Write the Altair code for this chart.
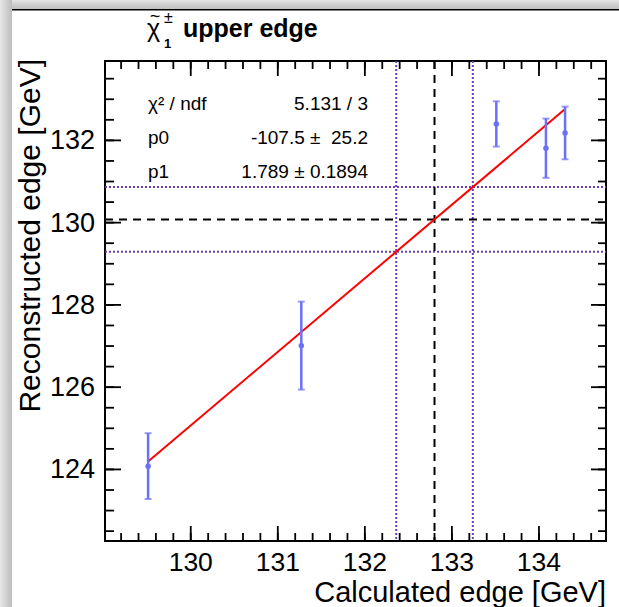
import altair as alt
import numpy as np
import pandas as pd

# Calculated vs reconstructed chargino upper edge (GeV)
calc_edge = [129.51, 131.27, 133.51, 134.08, 134.30]
reco_edge = [124.08, 127.01, 132.40, 131.81, 132.18]
reco_err = [0.80, 1.07, 0.55, 0.72, 0.64]

# Linear fit reco = p0 + p1 * calc
chi2_ndf = "5.131 / 3"
p0, p0_err = -107.5, 25.2
p1, p1_err = 1.789, 0.1894

# Calculated edge value and its uncertainty band
edge_value = 132.80
edge_band = [132.36, 133.24]

# Axis ranges and tick values
x_domain = [129.015, 134.77]
y_domain = [122.26, 133.93]
x_major = [130, 131, 132, 133, 134]
y_major = [124, 126, 128, 130, 132]
x_minor = [round(v, 1) for v in np.arange(129.2, 134.7, 0.2)]
y_minor = [round(v, 1) for v in np.arange(122.5, 133.6, 0.5)]

W, H = 501, 480
PAD_L, PAD_T = 105, 61
FONT = "Liberation Sans"

xs = alt.Scale(domain=x_domain, nice=False, zero=False)
ys = alt.Scale(domain=y_domain, nice=False, zero=False)


def fit(v):
    return p0 + p1 * v


one = pd.DataFrame({"k": [0]})

# Canvas shadow on the left and top edges
left_shadow = alt.Chart(one).mark_rect(
    clip=False,
    fill=alt.LinearGradient(
        gradient="linear", x1=0, x2=1, y1=0, y2=0,
        stops=[alt.GradientStop(color="#e8e8e8", offset=0),
               alt.GradientStop(color="#d2d2d2", offset=0.5),
               alt.GradientStop(color="#bdbdbd", offset=1)],
    ),
).encode(x=alt.value(-PAD_L), x2=alt.value(-PAD_L + 12),
         y=alt.value(-PAD_T), y2=alt.value(607 - PAD_T))

top_shadow = alt.Chart(one).mark_rect(
    clip=False,
    fill=alt.LinearGradient(
        gradient="linear", x1=0, x2=0, y1=0, y2=1,
        stops=[alt.GradientStop(color="#e6e6e6", offset=0),
               alt.GradientStop(color="#d0d0d0", offset=0.5),
               alt.GradientStop(color="#c0c0c0", offset=1)],
    ),
).encode(x=alt.value(-PAD_L + 12), x2=alt.value(619 - PAD_L),
         y=alt.value(-PAD_T), y2=alt.value(-PAD_T + 9))

top_border = alt.Chart(one).mark_rect(clip=False, fill="black").encode(
    x=alt.value(-PAD_L + 12), x2=alt.value(619 - PAD_L),
    y=alt.value(-PAD_T + 9), y2=alt.value(-PAD_T + 10.4))

# Ticks drawn inside the frame on all four sides
xmaj = pd.DataFrame({"x": x_major})
xmin = pd.DataFrame({"x": x_minor})
ymaj = pd.DataFrame({"y": y_major})
ymin = pd.DataFrame({"y": y_minor})

tick_style = dict(color="black", strokeWidth=1.8)
X = alt.X("x:Q", scale=xs, axis=None)
Y = alt.Y("y:Q", scale=ys, axis=None)

ticks = [
    alt.Chart(xmaj).mark_rule(**tick_style).encode(x=X, y=alt.value(H), y2=alt.value(H - 15)),
    alt.Chart(xmaj).mark_rule(**tick_style).encode(x=X, y=alt.value(0), y2=alt.value(15)),
    alt.Chart(xmin).mark_rule(**tick_style).encode(x=X, y=alt.value(H), y2=alt.value(H - 8)),
    alt.Chart(xmin).mark_rule(**tick_style).encode(x=X, y=alt.value(0), y2=alt.value(8)),
    alt.Chart(ymaj).mark_rule(**tick_style).encode(y=Y, x=alt.value(0), x2=alt.value(16)),
    alt.Chart(ymaj).mark_rule(**tick_style).encode(y=Y, x=alt.value(W), x2=alt.value(W - 15)),
    alt.Chart(ymin).mark_rule(**tick_style).encode(y=Y, x=alt.value(0), x2=alt.value(9)),
    alt.Chart(ymin).mark_rule(**tick_style).encode(y=Y, x=alt.value(W), x2=alt.value(W - 8)),
]

# Tick labels
x_labels = alt.Chart(xmaj).mark_text(
    font=FONT, fontSize=26.5, baseline="alphabetic", align="center", clip=False
).encode(x=X, y=alt.value(571 - PAD_T), text=alt.Text("x:Q", format="d"))

y_labels = alt.Chart(ymaj).mark_text(
    font=FONT, fontSize=27, baseline="middle", align="right", clip=False, dy=1
).encode(y=Y, x=alt.value(95 - PAD_L), text=alt.Text("y:Q", format="d"))

# Axis titles
x_title = alt.Chart(pd.DataFrame({"t": ["Calculated edge [GeV]"]})).mark_text(
    font=FONT, fontSize=29, align="right", baseline="alphabetic", clip=False
).encode(x=alt.value(606 - PAD_L), y=alt.value(602 - PAD_T), text="t:N")

y_title = alt.Chart(pd.DataFrame({"t": ["Reconstructed edge [GeV]"]})).mark_text(
    font=FONT, fontSize=30, align="right", baseline="alphabetic", angle=270, clip=False
).encode(x=alt.value(40 - PAD_L), y=alt.value(59 - PAD_T), text="t:N")

# Title: chargino symbol with tilde, charge and index, then bold text
def label(txt, x, y, size, weight="normal", align="left"):
    return alt.Chart(pd.DataFrame({"t": [txt]})).mark_text(
        font=FONT, fontSize=size, fontWeight=weight, align=align,
        baseline="alphabetic", clip=False
    ).encode(x=alt.value(x - PAD_L), y=alt.value(y - PAD_T), text="t:N")

title_parts = [
    label("χ", 147, 37, 25),
    label("~", 155, 22, 18, align="center"),
    label("±", 164, 23, 16),
    label("1", 164, 48, 13, weight="bold"),
    label("upper edge", 183, 37, 25, weight="bold"),
]

# Fit statistics
stats = [
    label("χ² / ndf", 148, 110, 19),
    label(chi2_ndf, 368, 110, 19, align="right"),
    label("p0", 148, 144, 19),
    label(f"{p0:.1f} \u00b1\u00a0 {p0_err:.1f}", 368, 144, 19, align="right"),
    label("p1", 148, 178, 19),
    label(f"{p1:.3f} \u00b1 {p1_err:.4f}", 368, 178, 19, align="right"),
]

# Edge band and central value, projected through the fit
band_x = pd.DataFrame({"x": edge_band})
band_y = pd.DataFrame({"y": [fit(v) for v in edge_band]})
cen_x = pd.DataFrame({"x": [edge_value]})
cen_y = pd.DataFrame({"y": [fit(edge_value)]})

dotted = dict(color="#6a3fb6", strokeWidth=2, strokeDash=[2, 2])
dashed = dict(color="black", strokeWidth=2, strokeDash=[8, 6])

guides = [
    alt.Chart(band_x).mark_rule(**dotted).encode(x=X, y=alt.value(0), y2=alt.value(H)),
    alt.Chart(band_y).mark_rule(**dotted).encode(y=Y, x=alt.value(0), x2=alt.value(W)),
    alt.Chart(cen_x).mark_rule(**dashed).encode(x=X, y=alt.value(0), y2=alt.value(H)),
    alt.Chart(cen_y).mark_rule(**dashed).encode(y=Y, x=alt.value(0), x2=alt.value(W)),
]

# Fit line over the range of the points
fit_df = pd.DataFrame({"x": [min(calc_edge), max(calc_edge)]})
fit_df["y"] = fit(fit_df["x"])
fit_line = alt.Chart(fit_df).mark_line(color="#ff0000", strokeWidth=2).encode(x=X, y=Y)

# Points with vertical error bars
pts = pd.DataFrame({"x": calc_edge, "y": reco_edge, "e": reco_err})
pts["lo"] = pts["y"] - pts["e"]
pts["hi"] = pts["y"] + pts["e"]
BLUE = "#6b70f6"

err_bars = alt.Chart(pts).mark_rule(color=BLUE, strokeWidth=2.5).encode(
    x=X, y=alt.Y("lo:Q", scale=ys, axis=None), y2="hi:Q")
cap_lo = alt.Chart(pts).mark_tick(color=BLUE, orient="horizontal", size=7, thickness=2).encode(
    x=X, y=alt.Y("lo:Q", scale=ys, axis=None))
cap_hi = alt.Chart(pts).mark_tick(color=BLUE, orient="horizontal", size=7, thickness=2).encode(
    x=X, y=alt.Y("hi:Q", scale=ys, axis=None))
points = alt.Chart(pts).mark_circle(color=BLUE, size=30, opacity=1).encode(x=X, y=Y)

chart = alt.layer(
    left_shadow, top_shadow, top_border,
    *guides, fit_line, err_bars, cap_lo, cap_hi, points,
    *ticks, x_labels, y_labels, x_title, y_title, *title_parts, *stats,
).properties(
    width=W, height=H,
    autosize=alt.AutoSizeParams(type="none"),
    padding={"left": PAD_L, "top": PAD_T, "right": 619 - PAD_L - W, "bottom": 607 - PAD_T - H},
    background="white",
).configure_view(stroke="black", strokeWidth=2)

chart.save("out.html", embed_options={"renderer": "svg", "actions": False})
